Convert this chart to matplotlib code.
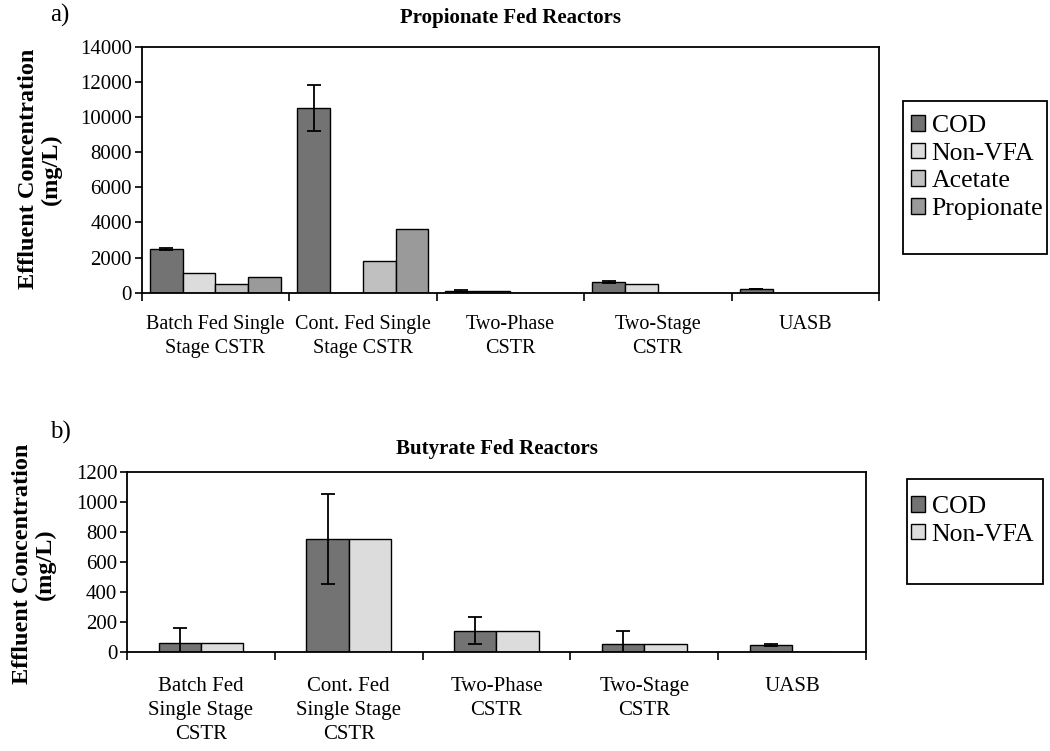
import matplotlib
matplotlib.use("Agg")
import matplotlib.pyplot as plt
import numpy as np
from matplotlib.patches import Rectangle, Patch

plt.rcParams['font.family'] = ['Liberation Serif', 'DejaVu Serif']

# ---------------- data ----------------
cats_top = ["Batch Fed Single\nStage CSTR", "Cont. Fed Single\nStage CSTR",
            "Two-Phase\nCSTR", "Two-Stage\nCSTR", "UASB"]
cats_bot = ["Batch Fed\nSingle Stage\nCSTR", "Cont. Fed\nSingle Stage\nCSTR",
            "Two-Phase\nCSTR", "Two-Stage\nCSTR", "UASB"]

top_series = ["COD", "Non-VFA", "Acetate", "Propionate"]
top_cod = [2500, 10500, 100, 600, 200]
top_cod_err = [50, 1300, 40, 40, 0]
top_nonvfa = [1100, 0, 80, 500, 0]
top_acetate = [520, 1800, 0, 0, 0]
top_propionate = [920, 3600, 0, 0, 0]

bot_series = ["COD", "Non-VFA"]
bot_cod = [65, 755, 145, 57, 46]
bot_cod_err = [100, 300, 88, 87, 6]
bot_nonvfa = [65, 755, 145, 57, 0]

colors = {"COD": "#737373", "Non-VFA": "#dcdcdc",
          "Acetate": "#c0c0c0", "Propionate": "#9a9a9a"}

W, H = 1050, 751
fig = plt.figure(figsize=(W / 100, H / 100), dpi=100)
fig.patch.set_facecolor("white")


def px_axes(left, right, top, bottom):
    return fig.add_axes([left / W, 1 - bottom / H, (right - left) / W, (bottom - top) / H])


def style_axes(ax, ymax, ystep, cats, pad, xfs):
    n = len(cats)
    ax.set_xlim(-0.5, n - 0.5)
    ax.set_ylim(0, ymax)
    ax.set_yticks(np.arange(0, ymax + 1, ystep))
    ax.tick_params(axis='y', direction='out', length=5, width=1.2, labelsize=15, pad=2)
    ax.set_xticks(np.arange(n))
    ax.set_xticklabels(cats, fontsize=xfs, linespacing=1.35)
    ax.tick_params(axis='x', which='major', length=0, pad=pad)
    ax.set_xticks(np.arange(n + 1) - 0.5, minor=True)
    ax.tick_params(axis='x', which='minor', direction='out', length=6, width=1.2)
    for s in ax.spines.values():
        s.set_linewidth(1.3)
        s.set_color("black")


# ---------------- top chart ----------------
ax1 = px_axes(141.7, 879, 46.7, 292.7)
x = np.arange(len(cats_top))
wt = 1 / 4.5
vals_top = [top_cod, top_nonvfa, top_acetate, top_propionate]
for i, (name, vals) in enumerate(zip(top_series, vals_top)):
    err = top_cod_err if name == "COD" else None
    ax1.bar(x + (i - 1.5) * wt, vals, wt, color=colors[name], edgecolor="black",
            linewidth=1.0, yerr=err, capsize=5,
            error_kw=dict(ecolor="black", elinewidth=1.3, capthick=1.3), zorder=2)
style_axes(ax1, 14000, 2000, cats_top, 16, 14.5)
ax1.set_title("Propionate Fed Reactors", fontsize=15, fontweight="bold", pad=17)

# ---------------- bottom chart ----------------
ax2 = px_axes(127, 866, 472, 652.3)
wb = 1 / 3.5
vals_bot = [bot_cod, bot_nonvfa]
for i, (name, vals) in enumerate(zip(bot_series, vals_bot)):
    err = bot_cod_err if name == "COD" else None
    ax2.bar(x + (i - 0.5) * wb, vals, wb, color=colors[name], edgecolor="black",
            linewidth=1.0, yerr=err, capsize=5,
            error_kw=dict(ecolor="black", elinewidth=1.3, capthick=1.3), zorder=2)
style_axes(ax2, 1200, 200, cats_bot, 18, 15)
ax2.set_title("Butyrate Fed Reactors", fontsize=15, fontweight="bold", pad=13)

# ---------------- y labels and panel labels ----------------
ylab = "Effluent Concentration\n(mg/L)"
fig.text(40 / W, 1 - 169 / H, ylab, rotation=90, ha="center", va="center",
         fontsize=17.5, fontweight="bold", multialignment="center", linespacing=1.1)
fig.text(34 / W, 1 - 564 / H, ylab, rotation=90, ha="center", va="center",
         fontsize=17.5, fontweight="bold", multialignment="center", linespacing=1.1)
fig.text(60 / W, 1 - 15 / H, "a)", ha="center", va="center", fontsize=18)
fig.text(60 / W, 1 - 432 / H, "b)", ha="center", va="center", fontsize=18)

# ---------------- legends ----------------
def px_legend(names, left, top, box):
    handles = [Patch(facecolor=colors[n], edgecolor="black", linewidth=1.0) for n in names]
    leg = fig.legend(handles, names, loc="upper left",
                     bbox_to_anchor=(left / W, 1 - top / H), frameon=False,
                     fontsize=18.5, handlelength=0.55, handleheight=0.55,
                     handletextpad=0.25, labelspacing=0.22, borderpad=0, borderaxespad=0)
    bl, bt, br, bb = box
    fig.patches.append(Rectangle((bl / W, 1 - bb / H), (br - bl) / W, (bb - bt) / H,
                                 transform=fig.transFigure, fill=False,
                                 edgecolor="black", linewidth=1.3))
    return leg

px_legend(top_series, 911, 115, (903, 101, 1047, 254))
px_legend(bot_series, 911, 496, (907, 479, 1043, 584))

fig.savefig("out.png", dpi=100, facecolor="white")
